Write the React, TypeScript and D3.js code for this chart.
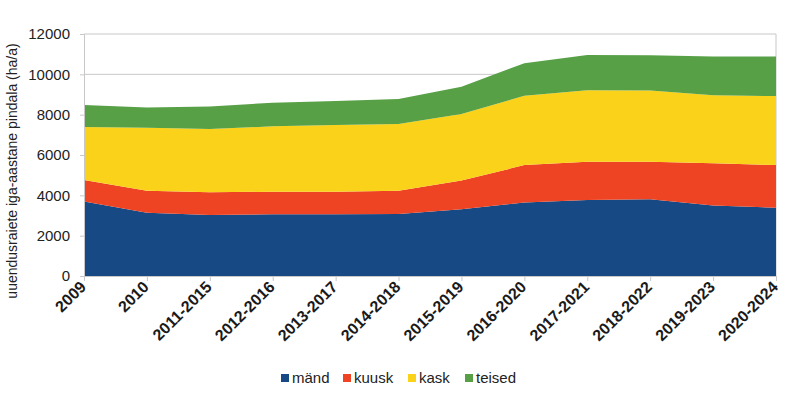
import React, { useEffect, useRef } from 'react';
import * as d3 from 'd3';

// kategooriad ja seeriad (ha/a)
const categories = ['2009', '2010', '2011-2015', '2012-2016', '2013-2017', '2014-2018', '2015-2019', '2016-2020', '2017-2021', '2018-2022', '2019-2023', '2020-2024'];
const mand = [3700, 3140, 3020, 3060, 3060, 3070, 3310, 3650, 3770, 3800, 3490, 3390];
const kuusk = [1060, 1090, 1130, 1120, 1120, 1160, 1420, 1850, 1900, 1870, 2100, 2110];
const kask = [2630, 3120, 3140, 3240, 3310, 3310, 3300, 3440, 3540, 3530, 3370, 3420];
const teised = [1090, 1010, 1120, 1170, 1190, 1240, 1360, 1610, 1750, 1750, 1930, 1960];
const seriesNames = ['mänd', 'kuusk', 'kask', 'teised'];
const seriesColors = ['#174a84', '#ee4423', '#fbd21a', '#57a046'];
const yTicks = [0, 2000, 4000, 6000, 8000, 10000, 12000];

const App = () => {
    const ref = useRef<SVGSVGElement>(null);

    useEffect(() => {
        const svg = d3.select(ref.current);
        svg.selectAll('*').remove();

        const width = 800, height = 395;
        const margin = { top: 34, right: 24, bottom: 119, left: 84 };
        const font = 'Liberation Sans, Arial, sans-serif';

        const rows = categories.map((c, i) => ({
            cat: c, 'mänd': mand[i], kuusk: kuusk[i], kask: kask[i], teised: teised[i],
        }));
        const stacked = d3.stack<any>().keys(seriesNames)(rows);

        const x = d3.scalePoint<string>()
            .domain(categories)
            .range([margin.left, width - margin.right]);
        const y = d3.scaleLinear()
            .domain([0, 12000])
            .range([height - margin.bottom, margin.top]);

        // ruudustik
        svg.append('g')
            .selectAll('line')
            .data(yTicks)
            .join('line')
            .attr('x1', margin.left)
            .attr('x2', width - margin.right)
            .attr('y1', d => y(d))
            .attr('y2', d => y(d))
            .attr('stroke', '#c8c8c8')
            .attr('stroke-width', 1);
        svg.append('line')
            .attr('x1', width - margin.right).attr('x2', width - margin.right)
            .attr('y1', y(12000)).attr('y2', y(0))
            .attr('stroke', '#c8c8c8');

        // alad
        const area = d3.area<any>()
            .x(d => x(d.data.cat)!)
            .y0(d => y(d[0]))
            .y1(d => y(d[1]));
        svg.append('g')
            .selectAll('path')
            .data(stacked)
            .join('path')
            .attr('fill', (d, i) => seriesColors[i])
            .attr('d', area);

        // y-telg
        const yAxis = svg.append('g')
            .attr('transform', `translate(${margin.left},0)`)
            .call(d3.axisLeft(y).tickValues(yTicks).tickFormat(d3.format('d')).tickSize(4).tickPadding(10));
        yAxis.select('.domain').attr('stroke', '#c8c8c8');
        yAxis.selectAll('.tick line').attr('stroke', '#c8c8c8');
        yAxis.selectAll('text')
            .attr('font-family', font)
            .attr('font-size', 15)
            .attr('fill', '#222');

        // x-telg
        const xAxis = svg.append('g')
            .attr('transform', `translate(0,${y(0)})`)
            .call(d3.axisBottom(x).tickSize(5).tickFormat(() => ''));
        xAxis.select('.domain').attr('stroke', '#c8c8c8');
        xAxis.selectAll('.tick line').attr('stroke', '#c8c8c8');

        svg.append('g')
            .selectAll('text')
            .data(categories)
            .join('text')
            .attr('transform', d => `translate(${x(d)! - 1},${y(0) + 8}) rotate(-45)`)
            .attr('text-anchor', 'end')
            .attr('dy', '0.35em')
            .attr('font-family', font)
            .attr('font-size', 16)
            .attr('font-weight', 'bold')
            .attr('fill', '#1a1a1a')
            .text(d => d);

        // y-telje pealkiri
        svg.append('text')
            .attr('transform', `translate(17,${(y(0) + y(12000)) / 2 + 16}) rotate(-90)`)
            .attr('text-anchor', 'middle')
            .attr('font-family', font)
            .attr('font-size', 14)
            .attr('fill', '#222')
            .text('uuendusraiete iga-aastane pindala (ha/a)');

        // legend
        const legendX = [281, 343, 408, 465];
        const legend = svg.append('g')
            .selectAll('g')
            .data(seriesNames)
            .join('g')
            .attr('transform', (d, i) => `translate(${legendX[i]},378)`);
        legend.append('rect')
            .attr('x', 0).attr('y', -4)
            .attr('width', 8).attr('height', 8)
            .attr('fill', (d, i) => seriesColors[i]);
        legend.append('text')
            .attr('x', 11)
            .attr('dy', '0.35em')
            .attr('font-family', font)
            .attr('font-size', 15)
            .attr('fill', '#222')
            .text(d => d);
    }, []);

    return (
        <svg ref={ref} width={800} height={395}
            style={{ position: 'absolute', left: 0, top: 0, background: '#fff' }} />
    );
};

export default App;
